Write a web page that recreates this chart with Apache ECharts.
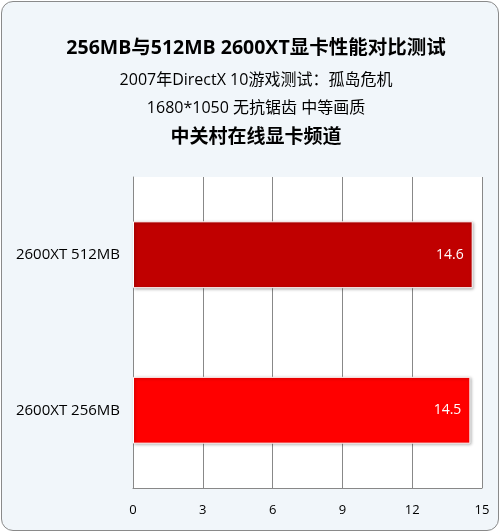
<!DOCTYPE html>
<html>
<head>
<meta charset="utf-8">
<script src="https://cdn.jsdelivr.net/npm/echarts@6/dist/echarts.min.js"></script>
<style>
  html, body { margin: 0; padding: 0; background: #fff; }
  #wrap {
    position: absolute; left: 1px; top: 1px; width: 496px; height: 528px;
    border: 1px solid #8a8a8a; border-radius: 12px; background: #f1f6fa; overflow: hidden;
  }
  #chart { position: absolute; left: -2px; top: -2px; width: 500px; height: 532px; }
</style>
</head>
<body>
<div id="wrap"><div id="chart"></div></div>
<script>
  // data
  var categories = ['2600XT 256MB', '2600XT 512MB'];
  var values = [14.5, 14.6];
  var barColors = ['#ff0000', '#c00000'];
  var titleLines = [
    '256MB与512MB 2600XT显卡性能对比测试',
    '2007年DirectX 10游戏测试：孤岛危机',
    '1680*1050 无抗锯齿 中等画质',
    '中关村在线显卡频道'
  ];

  var font = '"Open Sans", "Noto Sans CJK SC", sans-serif';
  var chart = echarts.init(document.getElementById('chart'));

  var option = {
    backgroundColor: 'transparent',
    animation: false,
    textStyle: { fontFamily: font },
    title: [
      { text: titleLines[0], left: 251, textAlign: 'center', top: 34,
        textStyle: { fontSize: 19.5, fontWeight: 'bold', color: '#000', fontFamily: font } },
      { text: titleLines[1], left: 251, textAlign: 'center', top: 67,
        textStyle: { fontSize: 16, fontWeight: 'normal', color: '#000', fontFamily: font } },
      { text: titleLines[2], left: 251, textAlign: 'center', top: 95,
        textStyle: { fontSize: 16, fontWeight: 'normal', color: '#000', fontFamily: font } },
      { text: titleLines[3], left: 251, textAlign: 'center', top: 123,
        textStyle: { fontSize: 19, fontWeight: 'bold', color: '#000', fontFamily: font } }
    ],
    grid: {
      left: 133, right: 18, top: 177, bottom: 44,
      show: true, backgroundColor: '#fff', borderWidth: 0
    },
    xAxis: {
      type: 'value', min: 0, max: 15, interval: 3,
      axisLine: { show: true, lineStyle: { color: '#888' } },
      axisTick: { show: false },
      splitLine: { show: true, lineStyle: { color: '#888', width: 1 } },
      axisLabel: { color: '#000', fontSize: 13, margin: 16 }
    },
    yAxis: {
      type: 'category', data: categories,
      axisLine: { show: true, lineStyle: { color: '#888' } },
      axisTick: { show: false },
      axisLabel: { color: '#000', fontSize: 15, margin: 13 }
    },
    series: [{
      type: 'bar',
      barWidth: '43%',
      data: values.map(function (v, i) {
        return { value: v, itemStyle: { color: barColors[i] } };
      }),
      itemStyle: {
        borderColor: '#fff', borderWidth: 1,
        shadowColor: 'rgba(0,0,0,0.35)', shadowBlur: 3, shadowOffsetX: 1, shadowOffsetY: 1
      },
      label: {
        show: true, position: 'insideRight', color: '#fff', fontSize: 14,
        distance: 9
      }
    }]
  };
  chart.setOption(option);
</script>
</body>
</html>
